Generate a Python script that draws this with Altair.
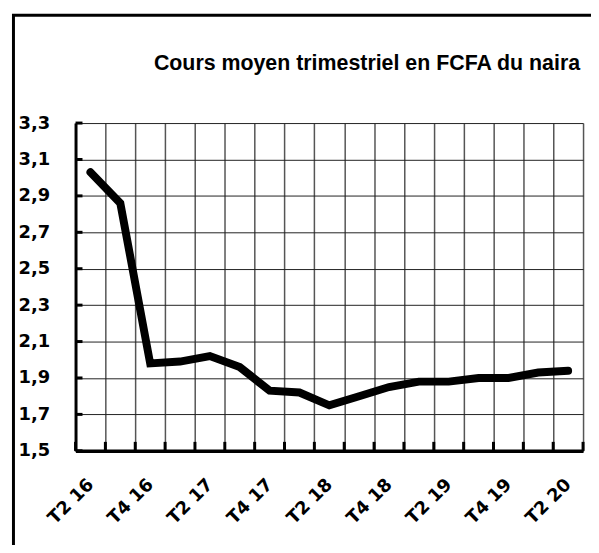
import json
import altair as alt
import pandas as pd

quarters = ["T2 16", "T3 16", "T4 16", "T1 17", "T2 17", "T3 17", "T4 17", "T1 18",
            "T2 18", "T3 18", "T4 18", "T1 19", "T2 19", "T3 19", "T4 19", "T1 20", "T2 20"]
values = [3.03, 2.86, 1.98, 1.99, 2.02, 1.96, 1.83, 1.82,
          1.75, 1.80, 1.85, 1.88, 1.88, 1.90, 1.90, 1.93, 1.94]
y_ticks = [1.5, 1.7, 1.9, 2.1, 2.3, 2.5, 2.7, 2.9, 3.1, 3.3]
title_text = "Cours moyen trimestriel en FCFA du naira"

df = pd.DataFrame({"quarter": quarters, "value": values})
df_yt = pd.DataFrame({"value": y_ticks})
df_last = pd.DataFrame({"quarter": quarters[-1:]})

W, H = 511, 330
LABEL_FONT = "DejaVu Sans"

x_scale = alt.Scale(type="band", domain=quarters, paddingInner=0, paddingOuter=0)
y_scale = alt.Scale(domain=[1.5, 3.3], nice=False, zero=False)

label_expr_x = "indexof(" + json.dumps(quarters) + ", datum.value) % 2 == 0 ? datum.label : ''"
label_expr_y = "replace(format(datum.value, '.1f'), '.', ',')"

x_axis = alt.Axis(orient="bottom", title=None, tickBand="extent", grid=True,
                  gridColor="#555555", gridWidth=1.5, gridOpacity=1, domainColor="black",
                  domainWidth=3.5, tickSize=0, labelAngle=-45, labelAlign="right",
                  labelBaseline="middle", labelPadding=31, labelExpr=label_expr_x,
                  labelOverlap=False, labelFont=LABEL_FONT, labelFontSize=18,
                  labelFontWeight="bold", labelColor="black")
y_axis = alt.Axis(orient="left", title=None, values=y_ticks, grid=True,
                  gridColor="#222222", gridWidth=1, gridOpacity=1, domainColor="black",
                  domainWidth=3, tickSize=0, labelPadding=26, labelExpr=label_expr_y,
                  labelFont=LABEL_FONT, labelFontSize=18, labelFontWeight="bold",
                  labelColor="black", labelAlign="right", labelBaseline="middle",
                  labelOverlap=False)

line = alt.Chart(df).mark_line(
    color="black", strokeWidth=8, strokeCap="round", strokeJoin="miter"
).encode(
    x=alt.X("quarter:N", sort=quarters, scale=x_scale, bandPosition=0.5, axis=x_axis),
    y=alt.Y("value:Q", scale=y_scale, axis=y_axis),
)

# inward-pointing tick marks
y_inticks = alt.Chart(df_yt).mark_rule(color="black", strokeWidth=3).encode(
    y=alt.Y("value:Q", scale=y_scale, axis=y_axis), x=alt.value(0), x2=alt.value(7)
)
x_inticks = alt.Chart(df).mark_rule(color="black", strokeWidth=3).encode(
    x=alt.X("quarter:N", sort=quarters, scale=x_scale, bandPosition=0, axis=x_axis),
    y=alt.value(H - 9), y2=alt.value(H)
)
x_inticks_end = alt.Chart(df_last).mark_rule(color="black", strokeWidth=3).encode(
    x=alt.X("quarter:N", sort=quarters, scale=x_scale, bandPosition=1, axis=x_axis),
    y=alt.value(H - 9), y2=alt.value(H)
)

title = alt.Chart(pd.DataFrame({"t": [title_text]})).mark_text(
    font="Liberation Sans", fontSize=21.5, fontWeight="bold", color="black",
    align="right", baseline="middle"
).encode(text="t:N", x=alt.value(508), y=alt.value(-59))

border = alt.Chart(pd.DataFrame({"t": [0]})).mark_rect(
    fill="transparent", fillOpacity=0, stroke="black", strokeWidth=3
).encode(x=alt.value(-62.5), x2=alt.value(560), y=alt.value(-108.5), y2=alt.value(460))

chart = alt.layer(line, y_inticks, x_inticks, x_inticks_end, title, border).properties(
    width=W, height=H,
    padding={"left": 68, "top": 114, "right": 8, "bottom": 93},
    autosize=alt.AutoSizeParams(type="none"),
    background="white",
).configure_view(stroke=None)

chart.save("out.html", embed_options={"renderer": "svg", "actions": False})
